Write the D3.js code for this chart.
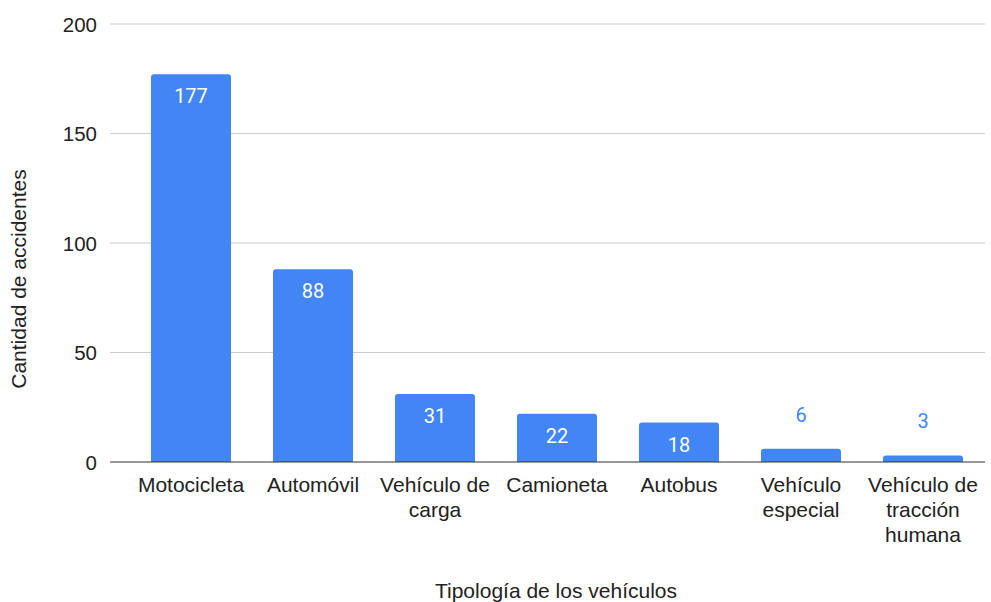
<!DOCTYPE html>
<html>
<head>
<meta charset="utf-8">
<script src="https://cdn.jsdelivr.net/npm/d3@7"></script>
<style>
  body { margin: 0; background: #fff; }
  svg { display: block; }
</style>
</head>
<body>
<div id="chart"></div>
<script>
var categories = ["Motocicleta", "Automóvil", "Vehículo de carga", "Camioneta", "Autobus", "Vehículo especial", "Vehículo de tracción humana"];
// wrapped label lines as in the picture
var categoryLines = [["Motocicleta"], ["Automóvil"], ["Vehículo de", "carga"], ["Camioneta"], ["Autobus"], ["Vehículo", "especial"], ["Vehículo de", "tracción", "humana"]];
var values = [177, 88, 31, 22, 18, 6, 3];
var yTicks = [0, 50, 100, 150, 200];
var xTitle = "Tipología de los vehículos";
var yTitle = "Cantidad de accidentes";

var width = 991, height = 602;
var plot = { left: 110, right: 985, top: 24, bottom: 462 };
var blue = "#4285f4";
var font = "Liberation Sans, Arial, sans-serif";
var fs = "21px";

var svg = d3.select("#chart").append("svg")
    .attr("width", width)
    .attr("height", height);

var x = d3.scaleBand()
    .domain(categories)
    .range([130, 984])
    .paddingInner(0.344)
    .paddingOuter(0.172);

var y = d3.scaleLinear()
    .domain([0, 200])
    .range([plot.bottom, plot.top]);

// grid lines
svg.append("g")
    .selectAll("line")
    .data(yTicks.filter(function (d) { return d > 0; }))
    .enter().append("line")
    .attr("x1", plot.left)
    .attr("x2", plot.right)
    .attr("y1", function (d) { return y(d); })
    .attr("y2", function (d) { return y(d); })
    .attr("stroke", "#cccccc")
    .attr("stroke-width", 1);

// y tick labels
svg.append("g")
    .selectAll("text")
    .data(yTicks)
    .enter().append("text")
    .attr("x", 97)
    .attr("y", function (d) { return y(d) + 7.5; })
    .attr("text-anchor", "end")
    .attr("font-family", font)
    .attr("font-size", "20.5px")
    .attr("fill", "#222")
    .text(function (d) { return d; });

// bars, small rounded top corners
var r = 3;
svg.append("g")
    .selectAll("path")
    .data(values)
    .enter().append("path")
    .attr("fill", blue)
    .attr("d", function (d, i) {
        var x0 = x(categories[i]), w = x.bandwidth();
        var y0 = y(d), y1 = y(0);
        var rr = Math.min(r, (y1 - y0) / 2);
        return "M" + x0 + "," + y1 +
            "V" + (y0 + rr) +
            "Q" + x0 + "," + y0 + " " + (x0 + rr) + "," + y0 +
            "H" + (x0 + w - rr) +
            "Q" + (x0 + w) + "," + y0 + " " + (x0 + w) + "," + (y0 + rr) +
            "V" + y1 + "Z";
    });

// value labels: inside the bar when it is tall enough
function inside(d) { return y(0) - y(d) > 30; }
svg.append("g")
    .selectAll("text")
    .data(values)
    .enter().append("text")
    .attr("x", function (d, i) { return x(categories[i]) + x.bandwidth() / 2; })
    .attr("y", function (d) { return inside(d) ? y(d) + 29 : y(d) - 27; })
    .attr("text-anchor", "middle")
    .attr("font-family", "Roboto, sans-serif")
    .attr("font-size", "20px")
    .attr("fill", function (d) { return inside(d) ? "#ffffff" : blue; })
    .text(function (d) { return d; });

// baseline
svg.append("line")
    .attr("x1", plot.left)
    .attr("x2", plot.right)
    .attr("y1", y(0))
    .attr("y2", y(0))
    .attr("stroke", "#333333")
    .attr("stroke-width", 1);

// category labels
var cat = svg.append("g")
    .selectAll("text")
    .data(categories)
    .enter().append("text")
    .attr("text-anchor", "middle")
    .attr("font-family", font)
    .attr("font-size", fs)
    .attr("fill", "#222");
cat.each(function (d, i) {
    var t = d3.select(this);
    categoryLines[i].forEach(function (line, k) {
        t.append("tspan")
            .attr("x", x(d) + x.bandwidth() / 2)
            .attr("y", 492 + k * 25)
            .text(line);
    });
});

// axis titles
svg.append("text")
    .attr("x", 556)
    .attr("y", 598)
    .attr("text-anchor", "middle")
    .attr("font-family", font)
    .attr("font-size", fs)
    .attr("fill", "#222")
    .text(xTitle);

svg.append("text")
    .attr("transform", "translate(26,279) rotate(-90)")
    .attr("text-anchor", "middle")
    .attr("font-family", font)
    .attr("font-size", fs)
    .attr("fill", "#222")
    .text(yTitle);
</script>
</body>
</html>
